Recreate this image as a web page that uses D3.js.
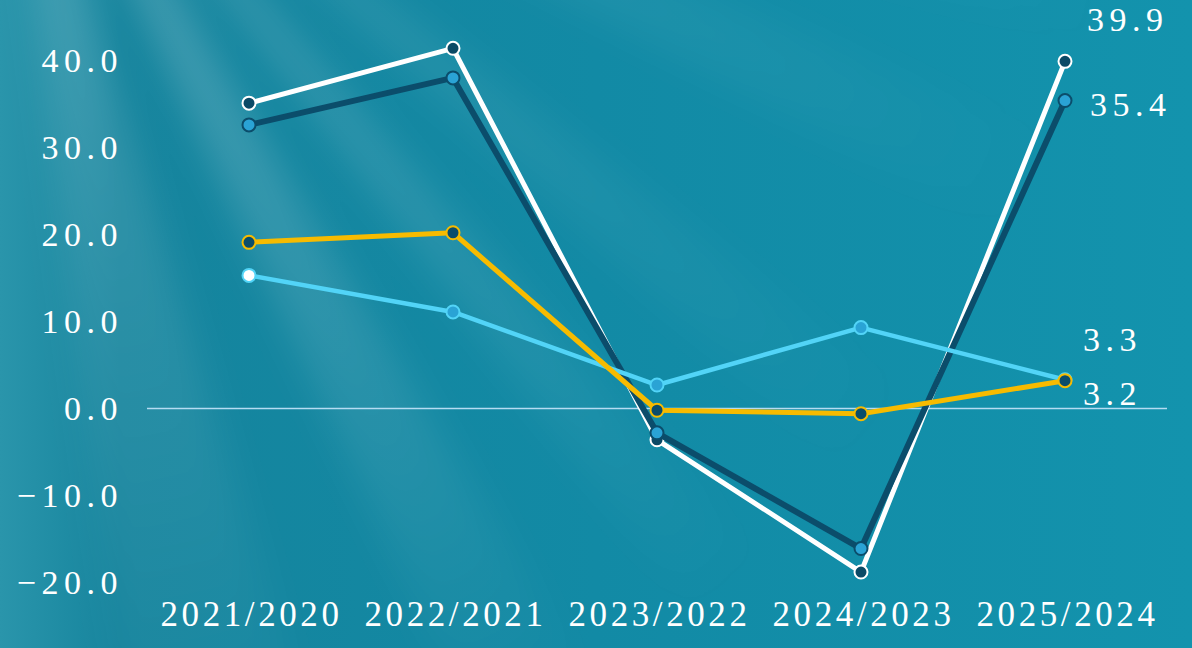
<!DOCTYPE html>
<html>
<head>
<meta charset="utf-8">
<script src="https://cdn.jsdelivr.net/npm/d3@7"></script>
<style>
  html, body { margin: 0; padding: 0; background: #138aa6; }
  svg { display: block; }
  text { font-family: "Liberation Serif", "Times New Roman", serif; fill: #ffffff; }
</style>
</head>
<body>
<div id="chart"></div>
<script>
// periods on the x axis
const categories = ["2021/2020", "2022/2021", "2023/2022", "2024/2023", "2025/2024"];

// series values (percent change)
const whiteSeries = [35.1, 41.4, -3.6, -18.8, 39.9];
const navySeries = [32.6, 38.0, -2.8, -16.1, 35.4];
const skySeries = [15.3, 11.1, 2.7, 9.3, 3.3];
const goldSeries = [19.1, 20.2, -0.2, -0.6, 3.2];

const yTicks = [-20, -10, 0, 10, 20, 30, 40];

const width = 1192, height = 648;

const svg = d3.select("#chart").append("svg")
    .attr("width", width)
    .attr("height", height);

const defs = svg.append("defs");

const bg = defs.append("linearGradient")
    .attr("id", "bg")
    .attr("x1", "0").attr("y1", "0").attr("x2", "1").attr("y2", "0");
bg.append("stop").attr("offset", "0%").attr("stop-color", "#2a95ab");
bg.append("stop").attr("offset", "10%").attr("stop-color", "#15849d");
bg.append("stop").attr("offset", "50%").attr("stop-color", "#128aa5");
bg.append("stop").attr("offset", "100%").attr("stop-color", "#1393ad");

defs.append("filter")
    .attr("id", "blur")
    .attr("x", "-50%").attr("y", "-50%").attr("width", "200%").attr("height", "200%")
    .append("feGaussianBlur")
    .attr("stdDeviation", 18);

// rays fade out away from the light source
const src = [0, -300];
const fade = defs.append("radialGradient")
    .attr("id", "fade")
    .attr("gradientUnits", "userSpaceOnUse")
    .attr("cx", src[0]).attr("cy", src[1]).attr("r", 1150);
fade.append("stop").attr("offset", "20%").attr("stop-color", "#ffffff").attr("stop-opacity", 1);
fade.append("stop").attr("offset", "100%").attr("stop-color", "#ffffff").attr("stop-opacity", 0);

svg.append("rect")
    .attr("width", width)
    .attr("height", height)
    .attr("fill", "url(#bg)");

// soft light rays, as dx/dy slopes from the source
const rays = [
    {s: [0.12, 0.3], o: 0.16},
    {s: [0.46, 0.6], o: 0.22},
    {s: [0.76, 0.88], o: 0.18},
    {s: [1.1, 1.3], o: 0.11},
    {s: [1.9, 2.4], o: 0.1},
    {s: [3.2, 4.0], o: 0.1}
];
const far = 1400;
const rayG = svg.append("g").attr("filter", "url(#blur)");
rayG.selectAll("path")
    .data(rays)
    .enter()
    .append("path")
    .attr("d", d => {
        const p = d.s.map(k => {
            const n = Math.sqrt(1 + k * k);
            return [src[0] + far * k / n, src[1] + far / n];
        });
        return `M ${src[0]},${src[1]} L ${p[0][0]},${p[0][1]} L ${p[1][0]},${p[1][1]} Z`;
    })
    .attr("fill", "url(#fade)")
    .attr("opacity", d => d.o);

const x = d3.scalePoint()
    .domain(categories)
    .range([147, 1167])
    .padding(0.5);

const y = d3.scaleLinear()
    .domain([-20, 40])
    .range([582.5, 60.5]);

// y axis labels
const yAxis = d3.axisLeft(y)
    .tickValues(yTicks)
    .tickSize(0)
    .tickPadding(0)
    .tickFormat(d3.format(".1f"));

const yG = svg.append("g")
    .attr("transform", "translate(123,0)")
    .call(yAxis);
yG.select(".domain").remove();
yG.selectAll("text")
    .attr("font-size", 34)
    .attr("letter-spacing", 5.5)
    .attr("fill", "#ffffff")
    .attr("dy", "0.33em");

// x axis labels
const xAxis = d3.axisBottom(x)
    .tickSize(0)
    .tickPadding(0);

const xG = svg.append("g")
    .attr("transform", "translate(2,596)")
    .call(xAxis);
xG.select(".domain").remove();
xG.selectAll("text")
    .attr("font-size", 35)
    .attr("letter-spacing", 3.6)
    .attr("fill", "#ffffff")
    .attr("dy", "0.85em");

// zero line
svg.append("line")
    .attr("x1", 147)
    .attr("x2", 1167)
    .attr("y1", y(0))
    .attr("y2", y(0))
    .attr("stroke", "#b5dcf2")
    .attr("stroke-width", 1.5);

const series = [
    {name: "white", values: whiteSeries, line: "#ffffff", width: 5, fill: "#0b4a66", stroke: "#ffffff"},
    {name: "navy", values: navySeries, line: "#0b4d6b", width: 6, fill: "#2aa3d5", stroke: "#0b4d6b"},
    {name: "sky", values: skySeries, line: "#52d4f7", width: 4.5, fill: "#2aa3d5", stroke: "#52d4f7", firstFill: "#ffffff"},
    {name: "gold", values: goldSeries, line: "#f7bb00", width: 5, fill: "#0b4d6b", stroke: "#f7bb00"}
];

const line = d3.line()
    .x((d, i) => x(categories[i]))
    .y(d => y(d));

const seriesG = svg.selectAll(".series")
    .data(series)
    .enter()
    .append("g")
    .attr("class", "series");

seriesG.append("path")
    .attr("d", d => line(d.values))
    .attr("fill", "none")
    .attr("stroke", d => d.line)
    .attr("stroke-width", d => d.width)
    .attr("stroke-linejoin", "round");

seriesG.each(function (s) {
    d3.select(this).selectAll("circle")
        .data(s.values)
        .enter()
        .append("circle")
        .attr("cx", (d, i) => x(categories[i]))
        .attr("cy", d => y(d))
        .attr("r", 6.5)
        .attr("fill", (d, i) => (i === 0 && s.firstFill) ? s.firstFill : s.fill)
        .attr("stroke", s.stroke)
        .attr("stroke-width", 2);
});

// end labels
const endLabels = [
    {values: whiteSeries, dx: 22, dy: -42},
    {values: navySeries, dx: 25, dy: 4},
    {values: skySeries, dx: 18, dy: -40},
    {values: goldSeries, dx: 18, dy: 13}
];

svg.selectAll(".end-label")
    .data(endLabels)
    .enter()
    .append("text")
    .attr("class", "end-label")
    .attr("x", d => x(categories[4]) + d.dx)
    .attr("y", d => y(d.values[4]) + d.dy)
    .attr("dy", "0.33em")
    .attr("font-size", 34)
    .attr("letter-spacing", 5.5)
    .text(d => d3.format(".1f")(d.values[4]));
</script>
</body>
</html>
